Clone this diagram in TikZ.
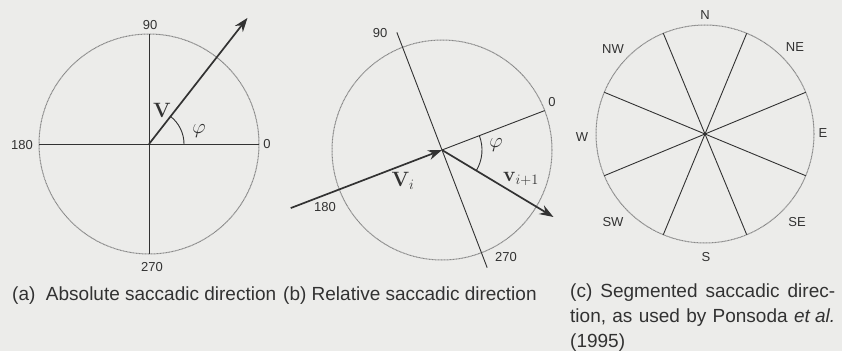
\documentclass[tikz,border=0pt]{standalone}
\usepackage[no-math]{fontspec}
\newfontfamily\helv{Liberation Sans}
\usetikzlibrary{arrows.meta,calc}
\definecolor{bg}{RGB}{236,236,234}
\definecolor{ink}{RGB}{50,50,50}
\definecolor{rim}{RGB}{135,135,135}
\begin{document}
\begin{tikzpicture}[x=1pt,y=1pt,
  rimline/.style={draw=rim, line width=1pt, dash pattern=on 1pt off 0.5pt},
  axis/.style={draw=ink, line width=0.9pt},
  vec/.style={draw=ink, line width=1.7pt, -{Stealth[length=14pt,width=10pt]}},
  lab/.style={font=\helv\fontsize{13}{15}\selectfont, text=ink, inner sep=0pt},
  mlab/.style={font=\fontsize{20}{22}\selectfont, text=ink, inner sep=0pt},
  captext/.style={font=\helv\fontsize{19}{25}\selectfont, text=ink, inner sep=0pt, anchor=base west}]
\fill[bg] (0,0) rectangle (842,351);
\useasboundingbox (0,0) rectangle (842,351);

% ---------- (a) absolute ----------
\coordinate (ac) at (149,207);
\draw[rimline] (ac) circle (110);
\coordinate (a0) at ($(ac)+(0:110)$);
\coordinate (a90) at ($(ac)+(90:110)$);
\coordinate (a180) at ($(ac)+(180:110)$);
\coordinate (a270) at ($(ac)+(270:110)$);
\coordinate (atip) at ($(ac)+(52:160)$);
\draw[axis] (a180) -- (a0);
\draw[axis] (a90) -- (a270);
\draw[vec] (ac) -- (atip);
\draw[axis] ($(ac)+(0:35)$) arc[start angle=0,end angle=52,radius=35];
\node[lab] (la0) at (267,207) {0};
\node[lab] (la90) at (150,326) {90};
\node[lab] (la180) at (22,206) {180};
\node[lab] (la270) at (152,84) {270};
\node[mlab] (lav) at (162,241) {$\mathbf{V}$};
\node[mlab] (laphi) at (199,220) {$\varphi$};

% ---------- (b) relative ----------
\coordinate (bc) at (442,201);
\draw[rimline] (bc) circle (110);
\coordinate (b0) at ($(bc)+(21:110)$);
\coordinate (b90) at ($(bc)+(111:126)$);
\coordinate (b270) at ($(bc)+(291:126)$);
\coordinate (bstart) at ($(bc)+(201:162)$);
\coordinate (btip) at ($(bc)+(-31:130)$);
\draw[axis] (bc) -- (b0);
\draw[axis] (b90) -- (b270);
\draw[vec] (bstart) -- (bc);
\draw[vec] (bc) -- (btip);
\draw[axis] ($(bc)+(-31:40)$) arc[start angle=-31,end angle=21,radius=40];
\node[lab] (lb0) at (552,249) {0};
\node[lab] (lb90) at (380,318) {90};
\node[lab] (lb180) at (325,144) {180};
\node[lab] (lb270) at (506,94) {270};
\node[mlab] (lbv) at (403,170) {$\mathbf{V}_i$};
\node[mlab] (lbphi) at (496,206) {$\varphi$};
\node[mlab] (lbv1) at (521,172) {$\mathbf{v}_{i+1}$};

% ---------- (c) segmented ----------
\coordinate (cc) at (705,217);
\draw[rimline] (cc) circle (109);
\foreach \k in {0,...,7}{
  \coordinate (cs\k) at ($(cc)+(22.5+45*\k:109)$);
  \draw[axis] (cc) -- (cs\k);
}
\node[lab] (lN)  at (705,336) {N};
\node[lab] (lNE) at (795,304) {NE};
\node[lab] (lE)  at (823,218) {E};
\node[lab] (lSE) at (797,129) {SE};
\node[lab] (lS)  at (706,94)  {S};
\node[lab] (lSW) at (613,129) {SW};
\node[lab] (lW)  at (582,214) {W};
\node[lab] (lNW) at (613,302) {NW};

% ---------- captions ----------
\node[captext] (capa) at (12,51) {(a)\ \ Absolute saccadic direction};
\node[captext] (capb) at (283,51) {(b)\ Relative saccadic direction};
\node[captext] (capc1) at (570,54) {\hbox to 265pt{(c)\hfill Segmented\hfill saccadic\hfill direc-}};
\node[captext] (capc2) at (570,28.5) {\hbox to 265pt{tion,\hfill as\hfill used\hfill by\hfill Ponsoda\hfill \textit{et al.}}};
\node[captext] (capc3) at (570,4) {(1995)};
\end{tikzpicture}
\end{document}
